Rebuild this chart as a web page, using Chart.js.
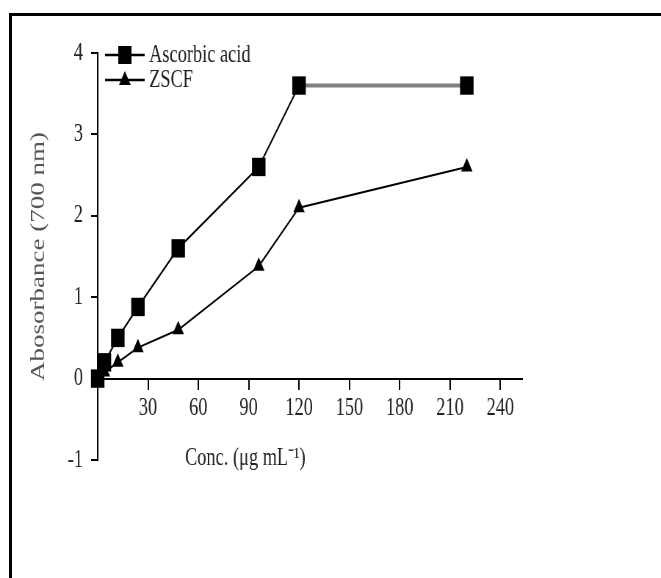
<!DOCTYPE html>
<html>
<head>
<meta charset="utf-8">
<script src="https://cdn.jsdelivr.net/npm/chart.js@4/dist/chart.umd.min.js"></script>
<style>
    html, body { margin: 0; padding: 0; overflow: hidden; background: #fff; }
    #frame {
        position: absolute; left: 9px; top: 13px; width: 700px; height: 700px;
        border-top: 3px solid #000; border-left: 3px solid #000;
    }
    /* the source figure is squeezed horizontally, so draw wide and scale down */
    #wrap {
        position: absolute; left: 0; top: 0; width: 900px; height: 578px;
        transform: scaleX(0.7344); transform-origin: 0 0;
    }
</style>
</head>
<body>
<div id="frame"></div>
<div id="wrap"><canvas id="absChart"></canvas></div>
<script>
// 数据
const conc = [0, 4, 12, 24, 48, 96, 120, 220];
const ascorbicAcid = [0, 0.2, 0.5, 0.88, 1.6, 2.6, 3.6, 3.6];
const zscf = [0, 0.08, 0.2, 0.38, 0.6, 1.38, 2.1, 2.6];
const xTicks = [0, 30, 60, 90, 120, 150, 180, 210, 240];
const seriesNames = ['Ascorbic acid', 'ZSCF'];

const serif = 'Liberation Serif';

function toPoints(xs, ys) {
    return xs.map((x, i) => ({ x: x, y: ys[i] }));
}

// legend: line with marker, drawn by hand
const lineLegend = {
    id: 'lineLegend',
    afterDraw(chart) {
        const ctx = chart.ctx;
        const rows = [55, 80];
        ctx.save();
        chart.data.datasets.forEach((ds, i) => {
            const y = rows[i];
            ctx.strokeStyle = '#000';
            ctx.lineWidth = 2.5;
            ctx.beginPath();
            ctx.moveTo(143, y);
            ctx.lineTo(197, y);
            ctx.stroke();
            ctx.fillStyle = '#000';
            if (ds.pointStyle === 'rect') {
                ctx.fillRect(161, y - 9, 18, 18);
            } else {
                ctx.beginPath();
                ctx.moveTo(170, y - 9);
                ctx.lineTo(178, y + 5);
                ctx.lineTo(162, y + 5);
                ctx.closePath();
                ctx.fill();
            }
            ctx.fillStyle = '#222';
            ctx.font = '25px "' + serif + '"';
            ctx.textBaseline = 'middle';
            ctx.textAlign = 'left';
            ctx.fillText(ds.label, 203, y);
        });
        ctx.restore();
    }
};

// x 轴标题（原图偏左）
const xTitle = {
    id: 'xTitle',
    afterDraw(chart) {
        const ctx = chart.ctx;
        const x = chart.scales.x.getPixelForValue(88);
        ctx.save();
        ctx.fillStyle = '#222';
        ctx.font = '25px "' + serif + '"';
        ctx.textAlign = 'center';
        ctx.textBaseline = 'middle';
        ctx.fillText('Conc. (μg mL⁻¹)', x, 458);
        ctx.restore();
    }
};

const lastSeg = ascorbicAcid.length - 2;

new Chart(document.getElementById('absChart'), {
    type: 'line',
    data: {
        datasets: [{
            label: seriesNames[0],
            data: toPoints(conc, ascorbicAcid),
            borderColor: '#000',
            borderWidth: 2,
            pointStyle: 'rect',
            pointRadius: 13,
            pointBackgroundColor: '#000',
            pointBorderWidth: 0,
            clip: false,
            segment: {
                borderColor: c => c.p0DataIndex === lastSeg ? '#808080' : undefined,
                borderWidth: c => c.p0DataIndex === lastSeg ? 4 : undefined
            }
        }, {
            label: seriesNames[1],
            data: toPoints(conc, zscf),
            borderColor: '#000',
            borderWidth: 2,
            pointStyle: 'triangle',
            pointRadius: 9,
            pointBackgroundColor: '#000',
            pointBorderWidth: 0,
            clip: false
        }]
    },
    options: {
        responsive: true,
        maintainAspectRatio: false,
        animation: false,
        layout: { padding: { left: 37, top: 53, right: 189, bottom: 118 } },
        plugins: {
            legend: { display: false },
            tooltip: { enabled: false }
        },
        scales: {
            x: {
                type: 'linear',
                position: { y: 0 },
                min: 0,
                max: 253,
                afterBuildTicks: s => { s.ticks = xTicks.map(v => ({ value: v })); },
                ticks: {
                    callback: v => v === 0 ? '' : v,
                    color: '#222',
                    font: { family: serif, size: 25 },
                    padding: 5,
                    maxRotation: 0,
                    autoSkip: false
                },
                grid: { drawOnChartArea: false, color: '#000', lineWidth: 2, tickLength: 10 },
                border: { color: '#000', width: 2 }
            },
            y: {
                min: -1,
                max: 4,
                ticks: {
                    stepSize: 1,
                    color: '#222',
                    font: { family: serif, size: 25 },
                    padding: 11
                },
                grid: { drawOnChartArea: false, color: '#000', lineWidth: 2, tickLength: 9 },
                border: { color: '#000', width: 2 },
                title: {
                    display: true,
                    text: 'Abosorbance (700 nm)',
                    color: '#555',
                    font: { family: serif, size: 27 },
                    padding: 0
                },
                afterFit: s => { s.width = 96; }
            }
        }
    },
    plugins: [lineLegend, xTitle]
});
</script>
</body>
</html>
